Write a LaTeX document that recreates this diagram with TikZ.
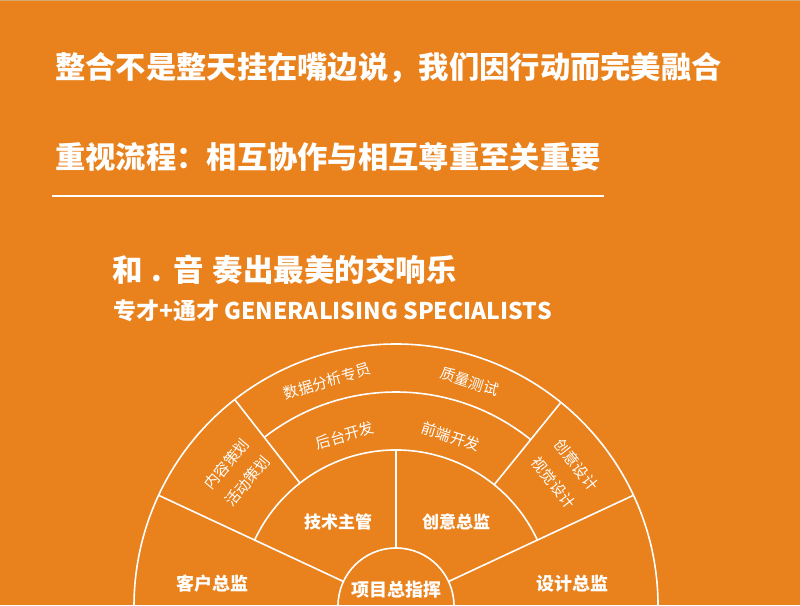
\documentclass[tikz,border=0pt]{standalone}
\usepackage{fontspec}
\newfontfamily\cjk{Noto Sans CJK SC}
\usetikzlibrary{calc}
\definecolor{bgorange}{RGB}{233,129,28}
\definecolor{topline}{RGB}{214,170,110}
\begin{document}
\begin{tikzpicture}[x=1pt,y=1pt,
  wl/.style={white,line width=1.6pt},
  title/.style={anchor=west,inner sep=0pt,text=white,font=\cjk\bfseries\fontsize{30.3}{32}\selectfont},
  boldlab/.style={inner sep=0pt,text=white,font=\cjk\bfseries\fontsize{17}{19}\selectfont},
  thinlab/.style={inner sep=0pt,text=white,font=\cjk\fontsize{15}{17}\selectfont}]
\fill[bgorange] (0,0) rectangle (800,605);
\useasboundingbox (0,0) rectangle (800,605);
\draw[topline,line width=1.5pt] (0,604.5) -- (800,604.5);
\clip (0,0) rectangle (800,605);

% titles
\node[title] (t1) at (55,537) {整合不是整天挂在嘴边说，我们因行动而完美融合};
\node[title] (t2) at (55,448) {重视流程：相互协作与相互尊重至关重要};
\coordinate (l1) at (52,409);
\coordinate (l2) at (604,409);
\draw[white,line width=2pt] (l1) -- (l2);
\node[anchor=west,inner sep=0pt,text=white,font=\cjk\bfseries\fontsize{30.5}{32}\selectfont] (s1) at (112,335)
  {和\hspace{9pt}.\hspace{11pt}音\hspace{9pt}奏出最美的交响乐};
\node[anchor=west,inner sep=0pt,text=white,font=\cjk\bfseries\fontsize{23}{25}\selectfont] (s2) at (113,294)
  {专才+通才 GENERALISING SPECIALISTS};

% wheel
\coordinate (C) at (396,-1);
\draw[wl] (C) circle[radius=58];
\draw[wl] (C) ++(25:156) arc[start angle=25,end angle=155,radius=156];
\draw[wl] (C) ++(51:214) arc[start angle=51,end angle=128,radius=214];
\draw[wl] (C) ++(-5:262) arc[start angle=-5,end angle=185,radius=262];
\draw[wl] ($(C)+(90:58)$) -- ($(C)+(90:156)$);
\draw[wl] ($(C)+(25:58)$) -- ($(C)+(25:262)$);
\draw[wl] ($(C)+(155:58)$) -- ($(C)+(155:262)$);
\draw[wl] ($(C)+(51:156)$) -- ($(C)+(51:262)$);
\draw[wl] ($(C)+(128:156)$) -- ($(C)+(128:262)$);

% labels
\node[boldlab,font=\cjk\bfseries\fontsize{18}{20}\selectfont] (pm) at (396,15) {项目总指挥};
\node[boldlab,font=\cjk\bfseries\fontsize{18}{20}\selectfont] (cd) at (212,21) {客户总监};
\node[boldlab,font=\cjk\bfseries\fontsize{18}{20}\selectfont] (dd) at (572,21) {设计总监};
\node[boldlab] (tm) at (338,83) {技术主管};
\node[boldlab] (cr) at (456,83) {创意总监};
\node[thinlab,rotate=16] (be) at ($(C)+(106.7:178)$) {后台开发};
\node[thinlab,rotate=-18] (fe) at ($(C)+(72:178)$) {前端开发};
\node[thinlab,rotate=17] (da) at ($(C)+(107:235)$) {数据分析专员};
\node[thinlab,rotate=-18] (qa) at ($(C)+(71.8:236)$) {质量测试};
\node[thinlab,rotate=50,align=center,font=\cjk\fontsize{15}{27}\selectfont] (cp) at ($(C)+(140:207.5)$) {内容策划\\活动策划};
\node[thinlab,rotate=-52,align=center,font=\cjk\fontsize{15}{29}\selectfont] (ci) at ($(C)+(38:214.5)$) {创意设计\\视觉设计};
\end{tikzpicture}
\end{document}
